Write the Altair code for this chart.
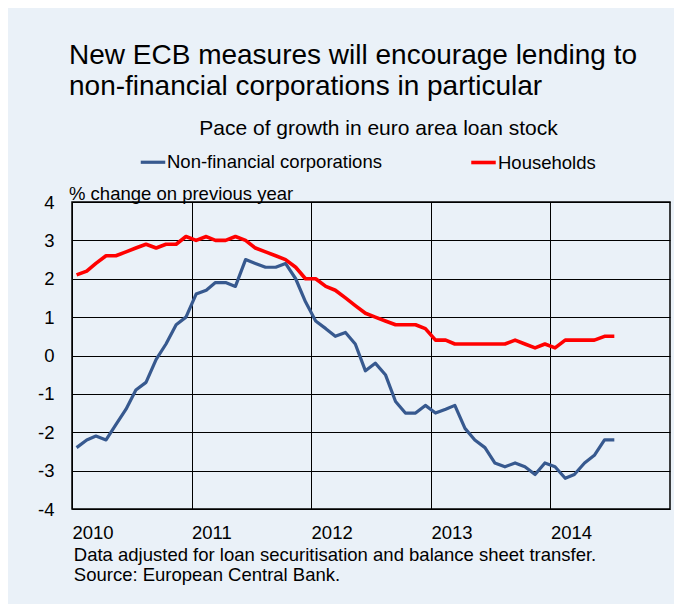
import altair as alt
import pandas as pd

# ---- data ----
years = [2010, 2011, 2012, 2013, 2014]
months = [f"{y}-{m:02d}-15" for y in years for m in range(1, 13)][:55]

series_names = ["Non-financial corporations", "Households"]

nfc = [-2.4, -2.2, -2.1, -2.2, -1.8, -1.4, -0.9, -0.7, -0.1, 0.3, 0.8, 1.0,
       1.6, 1.7, 1.9, 1.9, 1.8, 2.5, 2.4, 2.3, 2.3, 2.4, 2.0, 1.4,
       0.9, 0.7, 0.5, 0.6, 0.3, -0.4, -0.2, -0.5, -1.2, -1.5, -1.5, -1.3,
       -1.5, -1.4, -1.3, -1.9, -2.2, -2.4, -2.8, -2.9, -2.8, -2.9, -3.1, -2.8,
       -2.9, -3.2, -3.1, -2.8, -2.6, -2.2, -2.2]

households = [2.1, 2.2, 2.4, 2.6, 2.6, 2.7, 2.8, 2.9, 2.8, 2.9, 2.9, 3.1,
              3.0, 3.1, 3.0, 3.0, 3.1, 3.0, 2.8, 2.7, 2.6, 2.5, 2.3, 2.0,
              2.0, 1.8, 1.7, 1.5, 1.3, 1.1, 1.0, 0.9, 0.8, 0.8, 0.8, 0.7,
              0.4, 0.4, 0.3, 0.3, 0.3, 0.3, 0.3, 0.3, 0.4, 0.3, 0.2, 0.3,
              0.2, 0.4, 0.4, 0.4, 0.4, 0.5, 0.5]

y_ticks = [-4, -3, -2, -1, 0, 1, 2, 3, 4]

title_lines = ["New ECB measures will encourage lending to",
               "non-financial corporations in particular"]
chart_subject = "Pace of growth in euro area loan stock"
unit_label = "% change on previous year"
footer = ["Data adjusted for loan securitisation and balance sheet transfer.",
          "Source: European Central Bank."]

df = pd.DataFrame({
    "date": months + months,
    "value": nfc + households,
    "series": [series_names[0]] * len(nfc) + [series_names[1]] * len(households),
})

FONT = "Liberation Sans"
BLUE = "#37598F"
RED = "#FF0000"
BG = "#EAF1F8"

x = alt.X(
    "date:T",
    scale=alt.Scale(
        type="utc",
        domain=[alt.DateTime(year=2010, month=1, date=1, utc=True),
                alt.DateTime(year=2015, month=1, date=1, utc=True)],
    ),
    axis=alt.Axis(
        values=[alt.DateTime(year=y, month=1, date=1, utc=True) for y in years],
        labelExpr="utcFormat(datum.value, '%Y')",
        labelAlign="left",
        labelBaseline="top",
        labelPadding=14.5,
        title=footer,
        titleX=1.3,
        titleY=51,
        titleAlign="left",
        titleAnchor="start",
        titleAngle=0,
        titleBaseline="alphabetic",
        titleLineHeight=20.7,
    ),
)

# the centred heading above the legend is carried by the y axis title
y = alt.Y(
    "value:Q",
    scale=alt.Scale(domain=[-4, 4], nice=False, zero=False),
    axis=alt.Axis(
        values=y_ticks,
        labelExpr="datum.value + ''",
        labelPadding=18,
        title=chart_subject,
        titleFontSize=21,
        titleAngle=0,
        titleAlign="center",
        titleBaseline="alphabetic",
        titleX=306,
        titleY=-68,
    ),
)

color = alt.Color(
    "series:N",
    scale=alt.Scale(domain=series_names, range=[BLUE, RED]),
    legend=alt.Legend(
        orient="none",
        legendX=67,
        legendY=-54,
        direction="horizontal",
        title=None,
        symbolType="stroke",
        symbolSize=600,
        symbolStrokeWidth=3.5,
        labelFontSize=18.5,
        labelFont=FONT,
        labelColor="#000000",
        labelOffset=0,
        labelLimit=400,
        columnPadding=82,
        padding=0,
    ),
)

width_enc = alt.StrokeWidth(
    "series:N",
    scale=alt.Scale(domain=series_names, range=[3.2, 3.6]),
    legend=None,
)

chart = (
    alt.Chart(df)
    .mark_line(strokeJoin="round", strokeCap="butt")
    .encode(x=x, y=y, color=color, strokeWidth=width_enc)
    .properties(
        width=598,
        height=307,
        padding={"left": 64, "top": 194, "right": 4, "bottom": 95},
        autosize=alt.AutoSizeParams(type="none"),
        background=BG,
        title=alt.TitleParams(
            text=title_lines,
            subtitle=unit_label,
            anchor="start",
            frame="group",
            align="left",
            fontSize=28,
            font=FONT,
            fontWeight="normal",
            color="#000000",
            lineHeight=31,
            subtitleFont=FONT,
            subtitleFontSize=18.5,
            subtitleColor="#000000",
            subtitlePadding=84,
            dx=-3,
            offset=-86,
        ),
    )
    .configure_view(stroke="#000000", strokeWidth=1.5)
    .configure_axis(
        grid=True,
        gridColor="#000000",
        gridWidth=1,
        gridOpacity=1,
        domain=False,
        ticks=False,
        tickSize=0,
        labelFont=FONT,
        labelFontSize=18.5,
        labelColor="#000000",
        titleFont=FONT,
        titleFontSize=18.5,
        titleFontWeight="normal",
        titleColor="#000000",
    )
)

chart.save("out.html", embed_options={"renderer": "svg", "actions": False})
